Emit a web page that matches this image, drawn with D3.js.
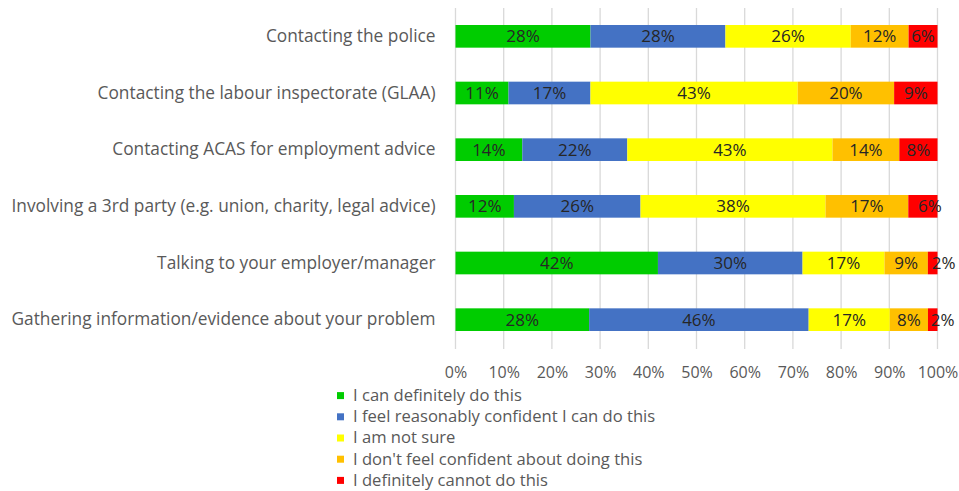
<!DOCTYPE html>
<html>
<head>
<meta charset="utf-8">
<script src="https://cdn.jsdelivr.net/npm/d3@7"></script>
<style>
  body { margin: 0; background: #fff; }
  svg { display: block; font-family: "Open Sans", "Noto Sans", sans-serif; }
</style>
</head>
<body>
<svg id="chart" width="959" height="491"></svg>
<script>
// Survey items (top to bottom)
const categories = [
  "Contacting the police",
  "Contacting the labour inspectorate (GLAA)",
  "Contacting ACAS for employment advice",
  "Involving a 3rd party (e.g. union, charity, legal advice)",
  "Talking to your employer/manager",
  "Gathering information/evidence about your problem"
];

// Response shares (%) per item, one array per answer
const canDefinitely    = [28, 11, 14, 12, 42, 28];
const fairlyConfident  = [28, 17, 22, 26, 30, 46];
const notSure          = [26, 43, 43, 38, 17, 17];
const notConfident     = [12, 20, 14, 17,  9,  8];
const definitelyCannot = [ 6,  9,  8,  6,  2,  2];

const seriesNames = [
  "I can definitely do this",
  "I feel reasonably confident I can do this",
  "I am not sure",
  "I don't feel confident about doing this",
  "I definitely cannot do this"
];

const xTicks = [0, 0.1, 0.2, 0.3, 0.4, 0.5, 0.6, 0.7, 0.8, 0.9, 1];

const colors = ["#00cc00", "#4472c4", "#ffff00", "#ffc000", "#ff0000"];

// Build a row table for d3.stack
const seriesValues = [canDefinitely, fairlyConfident, notSure, notConfident, definitelyCannot];
const rows = categories.map((c, i) => {
  const r = { category: c };
  seriesNames.forEach((s, k) => { r[s] = seriesValues[k][i]; });
  return r;
});

// 100% stacked: each row is scaled to its own total
const stacked = d3.stack()
  .keys(seriesNames)
  .offset(d3.stackOffsetExpand)(rows);

const svg = d3.select("#chart");

const x = d3.scaleLinear().domain([0, 1]).range([455.5, 937.5]);
const y = d3.scaleBand().domain(categories).range([8, 348])
  .paddingInner(0.6).paddingOuter(0.3);

// Vertical gridlines
svg.append("g")
  .selectAll("line")
  .data(xTicks)
  .join("line")
  .attr("x1", d => x(d)).attr("x2", d => x(d))
  .attr("y1", 8).attr("y2", 349)
  .attr("stroke", "#d9d9d9")
  .attr("stroke-width", 1.3);

// Bars
const layer = svg.append("g")
  .selectAll("g")
  .data(stacked)
  .join("g")
  .attr("fill", (d, i) => colors[i]);

layer.selectAll("rect")
  .data(d => d)
  .join("rect")
  .attr("x", d => x(d[0]))
  .attr("width", d => x(d[1]) - x(d[0]))
  .attr("y", d => y(d.data.category))
  .attr("height", y.bandwidth());

// Small sideways shifts for labels on the narrow end segments
const labelNudge = { "4-3": 7, "4-4": 11, "4-5": 10 };

// Data labels
stacked.forEach((s, k) => {
  svg.append("g")
    .selectAll("text")
    .data(s)
    .join("text")
    .attr("x", (d, i) => (x(d[0]) + x(d[1])) / 2 + (labelNudge[k + "-" + i] || 0))
    .attr("y", d => y(d.data.category) + y.bandwidth() / 2)
    .attr("dy", "0.35em")
    .attr("text-anchor", "middle")
    .attr("fill", "#262626")
    .style("font-size", "17px")
    .text(d => d.data[s.key] + "%");
});

// Category axis (labels only)
const yAxis = svg.append("g")
  .attr("transform", `translate(${x(0)},0)`)
  .call(d3.axisLeft(y).tickSize(0).tickPadding(20));
yAxis.select(".domain").remove();
yAxis.selectAll("text")
  .attr("fill", "#595959")
  .style("font-size", "17.3px")
  .style("font-family", "'Open Sans', sans-serif");

// Percentage axis (labels only)
const xAxis = svg.append("g")
  .attr("transform", "translate(0,357)")
  .call(d3.axisBottom(x).tickValues(xTicks).tickFormat(d3.format(".0%")).tickSize(0).tickPadding(10));
xAxis.select(".domain").remove();
xAxis.selectAll("text")
  .attr("fill", "#595959")
  .style("font-size", "16px")
  .style("font-family", "'Open Sans', sans-serif");

// Legend
const legend = svg.append("g")
  .selectAll("g")
  .data(seriesNames)
  .join("g")
  .attr("transform", (d, i) => `translate(337,${395.6 + i * 21.2})`);

legend.append("rect")
  .attr("x", 0).attr("y", -3.5)
  .attr("width", 7).attr("height", 7)
  .attr("fill", (d, i) => colors[i]);

legend.append("text")
  .attr("x", 16)
  .attr("dy", "0.33em")
  .attr("fill", "#595959")
  .style("font-size", "16.6px")
  .text(d => d);
</script>
</body>
</html>
